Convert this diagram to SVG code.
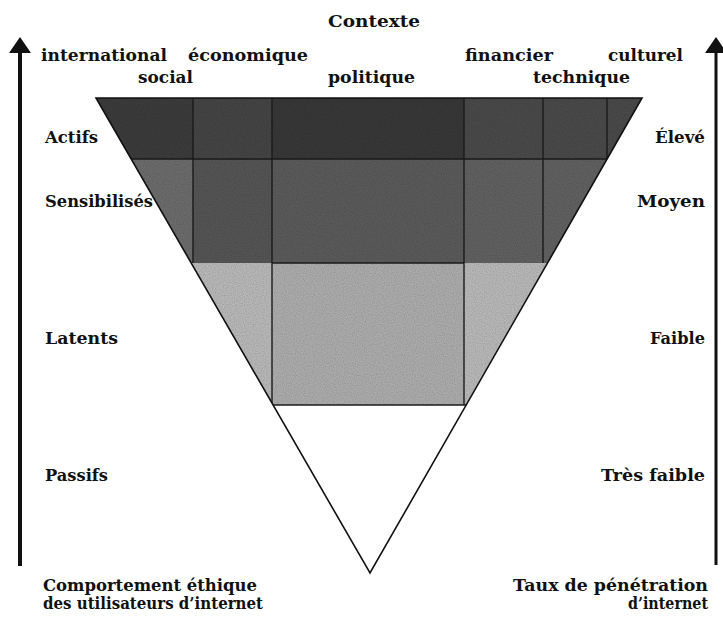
<svg xmlns="http://www.w3.org/2000/svg" width="723" height="620" viewBox="0 0 723 620">
  <style>
    .lbl { font-family: "DejaVu Serif", "Liberation Serif", serif; font-weight: bold; font-size: 16.5px; fill: #111; }
    .grid { stroke: #1a1a1a; stroke-width: 1.4; fill: none; }
    .edge { stroke: #111; stroke-width: 1.6; fill: none; stroke-linejoin: miter; }
    .axis { stroke: #111; fill: none; }
  </style>
  <defs>
    <clipPath id="funnelClip">
      <polygon points="96,98 642,98 370,573"/>
    </clipPath>
    <marker id="arrowHead" markerUnits="userSpaceOnUse" markerWidth="16" markerHeight="22" refX="0" refY="11" orient="auto" viewBox="0 0 16 22">
      <path d="M0,0 L16,11 L0,22 Z" fill="#111"/>
    </marker>
    <!-- fine grain for the shaded bands -->
    <filter id="grain" x="0" y="0" width="100%" height="100%">
      <feTurbulence type="fractalNoise" baseFrequency="0.9" numOctaves="1" seed="3" result="noise"/>
      <feColorMatrix in="noise" type="matrix" values="0 0 0 0 0  0 0 0 0 0  0 0 0 0 0  0 0 0 0.9 -0.35" result="dots"/>
      <feComposite in="dots" in2="SourceGraphic" operator="in"/>
    </filter>
  </defs>

  <rect width="723" height="620" fill="#fff"/>

  <!-- shaded bands of the funnel -->
  <g id="funnel-fill" clip-path="url(#funnelClip)">
    <rect x="90" y="98" width="103" height="61" fill="#3b3b3b"/>
    <rect x="193" y="98" width="79" height="61" fill="#444444"/>
    <rect x="272" y="98" width="192" height="61" fill="#373737"/>
    <rect x="464" y="98" width="185" height="61" fill="#494949"/>

    <rect x="90" y="159" width="103" height="104" fill="#6b6b6b"/>
    <rect x="193" y="159" width="79" height="104" fill="#545454"/>
    <rect x="272" y="159" width="192" height="104" fill="#5a5a5a"/>
    <rect x="464" y="159" width="185" height="104" fill="#606060"/>

    <rect x="90" y="263" width="560" height="142" fill="#b7b7b7"/>
    <rect x="272" y="263" width="192" height="142" fill="#ababab"/>

    <rect x="90" y="98" width="560" height="307" fill="#000" filter="url(#grain)" opacity="0.35"/>
  </g>

  <!-- grid lines inside the funnel -->
  <g id="funnel-grid" clip-path="url(#funnelClip)">
    <line class="grid" x1="90" y1="159" x2="650" y2="159"/>
    <line class="grid" x1="272" y1="263" x2="464" y2="263"/>
    <line class="grid" x1="272" y1="405" x2="466" y2="405"/>
    <line class="grid" x1="193" y1="98" x2="193" y2="263"/>
    <line class="grid" x1="272" y1="98" x2="272" y2="405"/>
    <line class="grid" x1="464" y1="98" x2="464" y2="405"/>
    <line class="grid" x1="543" y1="98" x2="543" y2="263"/>
    <line class="grid" x1="607" y1="98" x2="607" y2="159"/>
  </g>

  <g id="funnel-outline">
    <polygon class="edge" points="96,98 642,98 370,573"/>
  </g>

  <!-- vertical axes -->
  <g id="connectors">
    <line class="axis" x1="20" y1="566" x2="20" y2="53" stroke-width="4" marker-end="url(#arrowHead)"/>
    <line class="axis" x1="716" y1="565" x2="716" y2="53" stroke-width="3" marker-end="url(#arrowHead)"/>
  </g>

  <!-- context header -->
  <g id="context">
    <text class="lbl" x="328" y="27" textLength="92" lengthAdjust="spacingAndGlyphs" font-size="15">Contexte</text>
    <text class="lbl" x="41" y="61" textLength="126" lengthAdjust="spacingAndGlyphs">international</text>
    <text class="lbl" x="188" y="61" textLength="120" lengthAdjust="spacingAndGlyphs">économique</text>
    <text class="lbl" x="465" y="61" textLength="88" lengthAdjust="spacingAndGlyphs">financier</text>
    <text class="lbl" x="608" y="61" textLength="75" lengthAdjust="spacingAndGlyphs">culturel</text>
    <text class="lbl" x="138" y="83" textLength="55" lengthAdjust="spacingAndGlyphs">social</text>
    <text class="lbl" x="328" y="83" textLength="87" lengthAdjust="spacingAndGlyphs">politique</text>
    <text class="lbl" x="533" y="83" textLength="97" lengthAdjust="spacingAndGlyphs">technique</text>
  </g>

  <!-- behaviour levels (left) -->
  <g id="behaviour">
    <text class="lbl" x="45" y="143" textLength="53" lengthAdjust="spacingAndGlyphs">Actifs</text>
    <text class="lbl" x="45" y="207" textLength="108" lengthAdjust="spacingAndGlyphs">Sensibilisés</text>
    <text class="lbl" x="45" y="344" textLength="73" lengthAdjust="spacingAndGlyphs">Latents</text>
    <text class="lbl" x="45" y="481" textLength="63" lengthAdjust="spacingAndGlyphs">Passifs</text>
  </g>

  <!-- penetration levels (right) -->
  <g id="penetration">
    <text class="lbl" x="655" y="143" textLength="50" lengthAdjust="spacingAndGlyphs">Élevé</text>
    <text class="lbl" x="637" y="207" textLength="68" lengthAdjust="spacingAndGlyphs">Moyen</text>
    <text class="lbl" x="650" y="344" textLength="55" lengthAdjust="spacingAndGlyphs">Faible</text>
    <text class="lbl" x="601" y="481" textLength="104" lengthAdjust="spacingAndGlyphs">Très faible</text>
  </g>

  <!-- axis titles -->
  <g id="axis-left-title">
    <text class="lbl" x="43" y="591" textLength="214" lengthAdjust="spacingAndGlyphs">Comportement éthique</text>
    <text class="lbl" x="43" y="609" textLength="220" lengthAdjust="spacingAndGlyphs">des utilisateurs d’internet</text>
  </g>
  <g id="axis-right-title">
    <text class="lbl" x="513" y="591" textLength="195" lengthAdjust="spacingAndGlyphs">Taux de pénétration</text>
    <text class="lbl" x="628" y="609" textLength="80" lengthAdjust="spacingAndGlyphs">d’internet</text>
  </g>
</svg>
